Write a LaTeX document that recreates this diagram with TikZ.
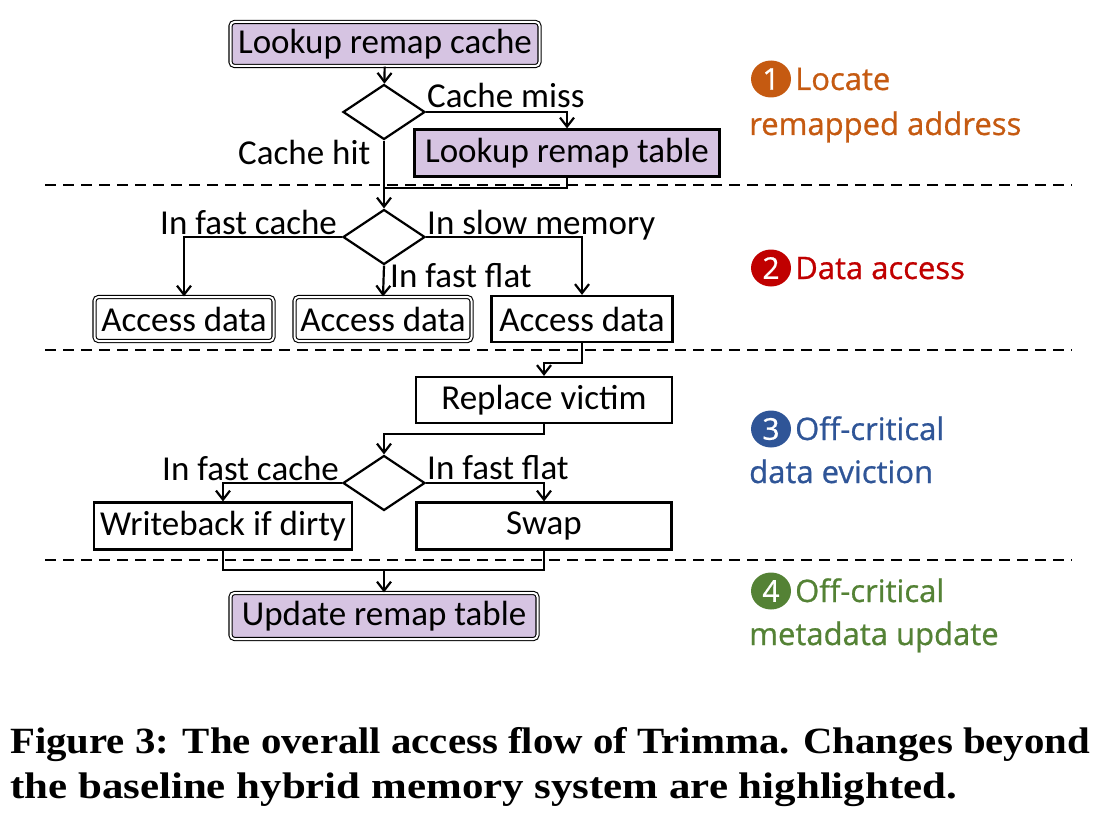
\documentclass[tikz,border=0pt]{standalone}
\usepackage{fontspec}
\setmainfont{Carlito}
\newfontfamily\labelfont[FakeBold=0.8]{Open Sans}
\newfontfamily\capfont{Liberation Serif}
\usetikzlibrary{shapes.geometric,arrows.meta,positioning}
\definecolor{hlpurple}{RGB}{214,196,226}
\definecolor{stepone}{RGB}{197,90,17}
\definecolor{steptwo}{RGB}{192,0,0}
\definecolor{stepthree}{RGB}{47,85,151}
\definecolor{stepfour}{RGB}{84,130,53}
\tikzset{
  box/.style={draw, line width=2.2pt, rectangle, minimum height=46pt, inner sep=0pt, font=\fontsize{35}{40}\selectfont},
  dbox/.style={box, line width=1.1pt, double, double distance=2pt, rounded corners=4pt, minimum height=44pt},
  hl/.style={fill=hlpurple},
  dec/.style={draw, diamond, aspect=1.5, line width=2.2pt, minimum width=82pt, minimum height=55pt, inner sep=0pt},
  lbl/.style={font=\fontsize{35}{40}\selectfont, inner sep=0pt, anchor=base west},
  arr/.style={line width=2.2pt, -{Straight Barb[length=9pt,width=14pt,line width=2.2pt]}},
  conn/.style={line width=2.2pt},
  sep/.style={line width=1.8pt, dash pattern=on 11pt off 7pt},
  num/.style={ellipse, minimum width=40pt, minimum height=37pt, inner sep=0pt, text=white, font=\labelfont\fontsize{30}{32}\selectfont},
  side/.style={font=\labelfont\fontsize{31}{36}\selectfont, inner sep=0pt, anchor=base west},
  captext/.style={anchor=base west, inner sep=0pt, font=\capfont\bfseries\fontsize{37}{44}\selectfont}
}
\begin{document}
\begin{tikzpicture}[x=1pt, y=-1pt]
\useasboundingbox (0,0) rectangle (1102,832);
% step 1
\node[dbox, hl, minimum width=309pt] (cache) at (385,44) {Lookup remap cache};
\node[dec] (d1) at (384,112) {};
\node[box, hl, minimum width=305pt, minimum height=47pt] (tbl) at (567,153) {Lookup remap table};
\node[lbl] (miss) at (427,108) {Cache miss};
\node[lbl] (hit) at (238,164) {Cache hit};
% step 2
\node[dec] (d2) at (384,237) {};
\node[dbox, minimum width=179pt] (acc1) at (184,319) {Access data};
\node[dbox, minimum width=177pt] (acc2) at (383,319) {Access data};
\node[box, minimum width=181pt] (acc3) at (582,319) {Access data};
\node[lbl] (fc1) at (160,234) {In fast cache};
\node[lbl] (slow) at (427,234) {In slow memory};
\node[lbl] (ff1) at (390,287) {In fast flat};
% step 3
\node[box, minimum width=256pt] (rv) at (544,400) {Replace victim};
\node[dec] (d3) at (384,483) {};
\node[box, minimum width=258pt, minimum height=47pt] (wb) at (223,526) {Writeback if dirty};
\node[box, minimum width=255pt, minimum height=47pt] (sw) at (544,526) {Swap};
\node[lbl] (fc2) at (162,480) {In fast cache};
\node[lbl] (ff2) at (427,479) {In fast flat};
% step 4
\node[dbox, hl, minimum width=307pt, minimum height=46pt] (upd) at (384,616) {Update remap table};
\coordinate (j1) at (384,188);
\coordinate (j2) at (384,570);
% connectors
\draw[arr] (cache) -- (d1);
\draw[arr] (d1.east) -| (tbl.north);
\draw[arr] (d1.south) -- (d2.north);
\draw[conn] (tbl.south) |- (j1);
\draw[arr] (d2.west) -| (acc1.north);
\draw[arr] (d2.south) -- (acc2.north);
\draw[arr] (d2.east) -| (acc3.north);
\draw[arr] (acc3.south) -- ++(0,20) -| (rv.north);
\draw[arr] (rv.south) -- ++(0,10) -| (d3.north);
\draw[arr] (d3.west) -| (wb.north);
\draw[arr] (d3.east) -| (sw.north);
\draw[conn] (wb.south) |- (j2) -| (sw.south);
\draw[arr] (j2) -- (upd.north);
% separators
\draw[sep] (45,185) -- (1072,185);
\draw[sep] (45,350) -- (1072,350);
\draw[sep] (45,560) -- (1072,560);
% side labels
\node[num, fill=stepone] (n1) at (771,79) {1};
\node[side, text=stepone] (s1a) at (795,90) {Locate};
\node[side, text=stepone] (s1b) at (749,135) {remapped address};
\node[num, fill=steptwo] (n2) at (771,268) {2};
\node[side, text=steptwo] (s2a) at (795,279) {Data access};
\node[num, fill=stepthree] (n3) at (771,429) {3};
\node[side, text=stepthree] (s3a) at (795,440) {Off-critical};
\node[side, text=stepthree] (s3b) at (749,483) {data eviction};
\node[num, fill=stepfour] (n4) at (771,591) {4};
\node[side, text=stepfour] (s4a) at (795,602) {Off-critical};
\node[side, text=stepfour] (s4b) at (749,645) {metadata update};
% caption
\node[captext] (cap1) at (10,753) {\scalebox{1.103}[1]{Figure 3: The overall access flow of Trimma. Changes beyond}};
\node[captext] (cap2) at (10,798) {\scalebox{1.16}[1]{the baseline hybrid memory system are highlighted.}};
\end{tikzpicture}
\end{document}
